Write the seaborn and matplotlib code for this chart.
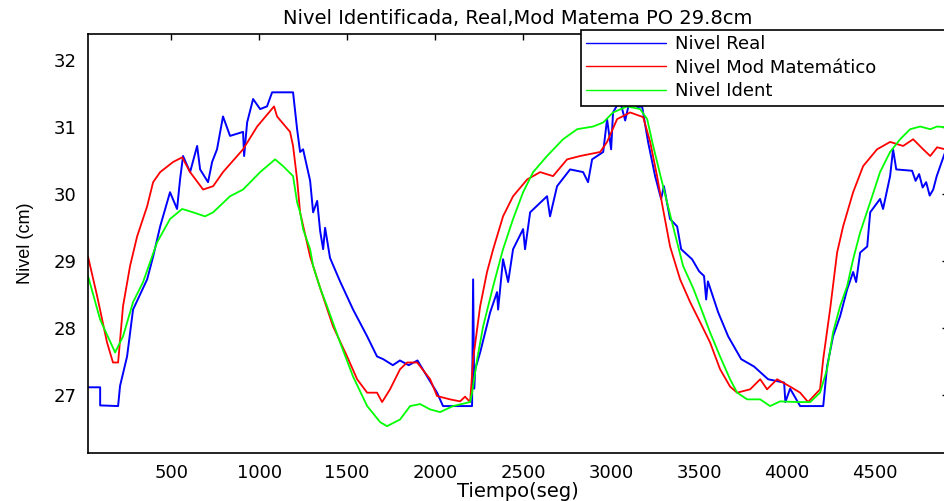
import numpy as np
import pandas as pd
import matplotlib
matplotlib.use("Agg")
import matplotlib.pyplot as plt
import seaborn as sns

# Nivel Real (blue)
t_real = [28, 97, 97, 199, 210, 250, 284, 364, 398, 438, 494, 534, 551, 568, 608, 648, 665,
          710, 733, 761, 795, 835, 909, 915, 932, 966, 1006, 1045, 1074, 1193, 1216, 1233,
          1250, 1290, 1307, 1330, 1347, 1364, 1375, 1403, 1460, 1534, 1614, 1670, 1705, 1760,
          1800, 1850, 1900, 1955, 2011, 2045, 2210, 2216, 2222, 2228, 2256, 2313, 2352, 2358,
          2386, 2415, 2443, 2500, 2511, 2540, 2636, 2653, 2693, 2767, 2841, 2869, 2892, 2955,
          2977, 3000, 3011, 3050, 3080, 3110, 3150, 3176, 3210, 3250, 3284, 3300, 3335, 3375,
          3398, 3460, 3500, 3528, 3540, 3550, 3608, 3665, 3739, 3812, 3892, 3983, 3990, 4017,
          4074, 4205, 4227, 4261, 4301, 4341, 4375, 4392, 4415, 4455, 4472, 4528, 4545, 4585,
          4602, 4620, 4710, 4730, 4750, 4770, 4790, 4810, 4830, 4850, 4898]
y_real = [27.12, 27.12, 26.85, 26.84, 27.14, 27.58, 28.28, 28.73, 29.07, 29.52, 30.03, 29.78,
          30.22, 30.57, 30.33, 30.72, 30.37, 30.18, 30.48, 30.67, 31.16, 30.87, 30.93, 30.57,
          31.07, 31.42, 31.27, 31.31, 31.52, 31.52, 30.97, 30.63, 30.67, 30.20, 29.73, 29.90,
          29.45, 29.18, 29.50, 29.05, 28.70, 28.28, 27.88, 27.58, 27.54, 27.45, 27.52, 27.45,
          27.52, 27.28, 27.04, 26.84, 26.84, 28.73, 27.10, 27.39, 27.64, 28.24, 28.54, 28.28,
          29.03, 28.69, 29.18, 29.48, 29.18, 29.73, 29.97, 29.67, 30.12, 30.37, 30.33, 30.18,
          30.52, 30.63, 31.12, 30.67, 31.22, 31.40, 31.10, 31.45, 31.30, 31.31, 30.78, 30.27,
          29.93, 30.12, 29.63, 29.52, 29.18, 29.03, 28.85, 28.78, 28.43, 28.70, 28.24, 27.88,
          27.54, 27.43, 27.24, 27.19, 26.90, 27.10, 26.84, 26.84, 27.43, 27.88, 28.18, 28.58,
          28.84, 28.69, 29.13, 29.22, 29.73, 29.93, 29.78, 30.27, 30.67, 30.37, 30.35, 30.20,
          30.30, 30.10, 30.18, 29.98, 30.07, 30.27, 30.63]

# Nivel Mod Matemático (red)
t_mod = [28, 80, 136, 170, 199, 227, 267, 307, 364, 398, 438, 511, 563, 608, 682, 739, 795,
         909, 989, 1085, 1102, 1176, 1193, 1216, 1233, 1290, 1347, 1420, 1500, 1557, 1614,
         1670, 1699, 1744, 1801, 1841, 1898, 1972, 2011, 2085, 2142, 2170, 2199, 2216, 2256,
         2295, 2330, 2386, 2443, 2523, 2597, 2670, 2750, 2824, 2938, 2977, 3034, 3108, 3182,
         3222, 3261, 3295, 3335, 3392, 3449, 3506, 3562, 3619, 3676, 3716, 3790, 3847, 3886,
         3943, 4017, 4074, 4119, 4187, 4205, 4244, 4284, 4318, 4375, 4432, 4511, 4585, 4659,
         4716, 4773, 4813, 4852, 4898]
y_mod = [29.07, 28.48, 27.79, 27.49, 27.49, 28.33, 28.93, 29.37, 29.82, 30.18, 30.33, 30.48,
         30.55, 30.33, 30.07, 30.12, 30.33, 30.67, 31.01, 31.31, 31.16, 30.93, 30.72, 30.22,
         29.73, 29.07, 28.60, 28.03, 27.58, 27.24, 27.04, 27.04, 26.90, 27.09, 27.39, 27.49,
         27.49, 27.24, 26.99, 26.94, 26.91, 26.98, 26.90, 27.54, 28.33, 28.84, 29.18, 29.67,
         29.97, 30.22, 30.33, 30.27, 30.52, 30.57, 30.63, 30.78, 31.12, 31.22, 31.15, 30.78,
         30.27, 29.78, 29.22, 28.73, 28.39, 28.09, 27.79, 27.39, 27.13, 27.04, 27.09, 27.24,
         27.09, 27.24, 27.13, 27.04, 26.90, 27.09, 27.54, 28.28, 29.13, 29.52, 30.03, 30.42,
         30.67, 30.78, 30.72, 30.82, 30.67, 30.57, 30.70, 30.67]

# Nivel Ident (green)
t_ident = [28, 97, 182, 227, 284, 341, 420, 494, 563, 625, 693, 739, 835, 909, 1006, 1091,
           1136, 1193, 1216, 1233, 1250, 1290, 1307, 1347, 1386, 1460, 1534, 1614, 1688, 1727,
           1801, 1858, 1915, 1972, 2028, 2102, 2199, 2210, 2239, 2273, 2330, 2386, 2443, 2500,
           2557, 2636, 2727, 2807, 2898, 2955, 3011, 3091, 3165, 3205, 3239, 3295, 3352, 3409,
           3466, 3506, 3562, 3619, 3676, 3716, 3773, 3847, 3903, 3960, 4057, 4131, 4187, 4227,
           4261, 4301, 4341, 4375, 4415, 4472, 4528, 4585, 4642, 4699, 4756, 4813, 4852, 4898]
y_ident = [28.78, 28.13, 27.64, 27.88, 28.39, 28.69, 29.28, 29.63, 29.78, 29.73, 29.67, 29.73,
           29.97, 30.07, 30.33, 30.52, 30.42, 30.27, 29.88, 29.73, 29.48, 29.18, 28.93, 28.60,
           28.33, 27.79, 27.28, 26.84, 26.60, 26.54, 26.64, 26.84, 26.87, 26.79, 26.75, 26.84,
           26.90, 27.04, 27.54, 28.03, 28.63, 29.18, 29.63, 30.03, 30.33, 30.57, 30.82, 30.97,
           31.01, 31.07, 31.22, 31.31, 31.27, 31.12, 30.72, 30.12, 29.52, 28.93, 28.60, 28.33,
           27.94, 27.58, 27.24, 27.04, 26.94, 26.94, 26.84, 26.91, 26.90, 26.90, 27.04, 27.39,
           27.94, 28.33, 28.63, 29.03, 29.43, 29.88, 30.33, 30.63, 30.82, 30.97, 31.01, 30.97,
           31.01, 31.00]

x_ticks = [500, 1000, 1500, 2000, 2500, 3000, 3500, 4000, 4500]
y_ticks = [27, 28, 29, 30, 31, 32]

sns.set_theme(style="white")
plt.rcParams['font.family'] = ['DejaVu Sans']
plt.rcParams['text.color'] = 'black'
plt.rcParams['axes.labelcolor'] = 'black'

fig = plt.figure(figsize=(9.45, 5.01), dpi=100)
ax = fig.add_axes([88 / 945, 48 / 501, 860 / 945, 419 / 501])

sns.lineplot(x=t_real, y=y_real, color='#0000ff', lw=1.4, label='Nivel Real',
             sort=False, estimator=None, ax=ax)
sns.lineplot(x=t_mod, y=y_mod, color='#ff0000', lw=1.3, label='Nivel Mod Matemático',
             sort=False, estimator=None, ax=ax)
sns.lineplot(x=t_ident, y=y_ident, color='#00ff00', lw=1.3, label='Nivel Ident',
             sort=False, estimator=None, ax=ax)

ax.set_xlim(28, 4914)
ax.set_ylim(26.14, 32.39)
ax.set_xticks(x_ticks)
ax.set_yticks(y_ticks)
ax.tick_params(direction='in', length=4, width=1, top=True, right=True,
               labelsize=13, colors='black', pad=8)
for s in ax.spines.values():
    s.set_color('black')
    s.set_linewidth(1.2)

ax.set_title('Nivel Identificada, Real,Mod Matema PO 29.8cm', fontsize=14, pad=7,
             color='black')
ax.set_xlabel('Tiempo(seg)', fontsize=14, labelpad=0)
ax.set_ylabel('Nivel (cm)', fontsize=13, family='Liberation Sans', labelpad=14)

leg = ax.legend(loc='upper left', bbox_to_anchor=(0.573, 0.8377, 0.45, 0.172),
                mode='expand', borderaxespad=0, fontsize=13, handlelength=4.4,
                handletextpad=0.5, labelspacing=0.3, borderpad=0.3,
                fancybox=False, framealpha=1, edgecolor='black')
leg.get_frame().set_linewidth(1.2)
for h in leg.get_lines():
    h.set_linewidth(1.0)

fig.savefig('out.png', dpi=100)
